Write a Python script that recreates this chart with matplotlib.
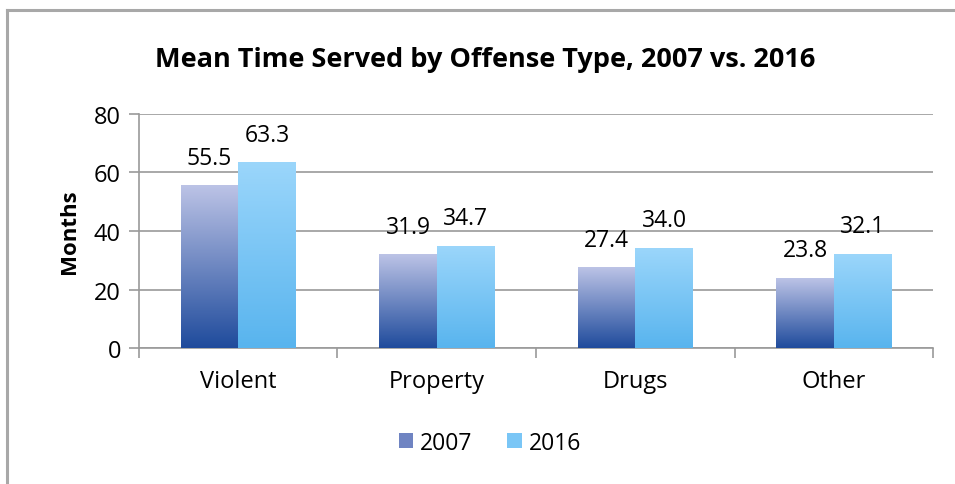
import numpy as np
import matplotlib.pyplot as plt
from matplotlib.colors import LinearSegmentedColormap
from matplotlib.patches import Patch
from matplotlib.lines import Line2D

plt.rcParams['font.family'] = ['Open Sans', 'DejaVu Sans']

# --- Données ---
categories = ["Violent", "Property", "Drugs", "Other"]
annees = ["2007", "2016"]
valeurs_2007 = [55.5, 31.9, 27.4, 23.8]
valeurs_2016 = [63.3, 34.7, 34.0, 32.1]

# dégradés (bas -> haut)
degrade_2007 = LinearSegmentedColormap.from_list("g2007", ["#1f4b9c", "#bcc3e6"])
degrade_2016 = LinearSegmentedColormap.from_list("g2016", ["#58b4ee", "#9bd6fb"])

fig = plt.figure(figsize=(9.55, 4.85), dpi=100)
ax = fig.add_axes([0.1455, 0.2804, 0.977 - 0.1455, 0.7629 - 0.2804])

largeur = 0.29
x = np.arange(len(categories))
grad = np.linspace(0, 1, 256).reshape(-1, 1)

for serie, decalage, cmap in [(valeurs_2007, -largeur / 2, degrade_2007),
                              (valeurs_2016, largeur / 2, degrade_2016)]:
    for xi, v in zip(x, serie):
        x0 = xi + decalage - largeur / 2
        ax.imshow(grad, cmap=cmap, origin='lower', aspect='auto',
                  extent=[x0, x0 + largeur, 0, v], zorder=3, interpolation='bicubic')
        ax.text(xi + decalage, v + 5.5, f"{v:.1f}", ha='center', va='bottom',
                fontsize=16.5, color='black', zorder=4)

ax.set_xlim(-0.5, len(categories) - 0.5)
ax.set_ylim(0, 80)
ax.set_yticks([0, 20, 40, 60, 80])
ax.yaxis.grid(True, color='#9a9a9a', linewidth=1.2, zorder=0)
ax.set_axisbelow(True)

# ticks de l'axe x aux frontières des catégories
ax.set_xticks(np.arange(-0.5, len(categories), 1.0))
ax.set_xticklabels([])
ax.set_xticks(x, minor=True)
ax.set_xticklabels(categories, minor=True)
ax.tick_params(axis='x', which='major', length=7, color='#9a9a9a', width=1.2)
ax.tick_params(axis='x', which='minor', length=0, pad=15, labelsize=17)
ax.tick_params(axis='y', length=7, color='#9a9a9a', width=1.2, labelsize=17, pad=6)

for cote in ['top', 'right']:
    ax.spines[cote].set_visible(False)
for cote in ['left', 'bottom']:
    ax.spines[cote].set_color('#9a9a9a')
    ax.spines[cote].set_linewidth(1.2)

ax.set_ylabel("Months", fontsize=16, fontweight='bold', labelpad=10)
fig.text(0.508, 0.877, "Mean Time Served by Offense Type, 2007 vs. 2016",
         ha='center', va='center', fontsize=19.5, fontweight='bold')

# --- Légende ---
poignees = [Patch(facecolor="#6f84c2", edgecolor='none'),
            Patch(facecolor="#7ac6f6", edgecolor='none')]
fig.legend(poignees, annees, loc='center', bbox_to_anchor=(0.513, 0.085), ncol=2,
           frameon=False, fontsize=16.5, handlelength=0.65, handleheight=0.65,
           handletextpad=0.3, columnspacing=1.5)

# --- Cadre du graphique ---
fig.add_artist(Line2D([7 / 955, 7 / 955], [0, 1 - 11 / 485], color='#a8a8a8', linewidth=2.2))
fig.add_artist(Line2D([7 / 955, 1], [1 - 11 / 485, 1 - 11 / 485], color='#a8a8a8', linewidth=2.2))

fig.savefig("out.png", dpi=100)
